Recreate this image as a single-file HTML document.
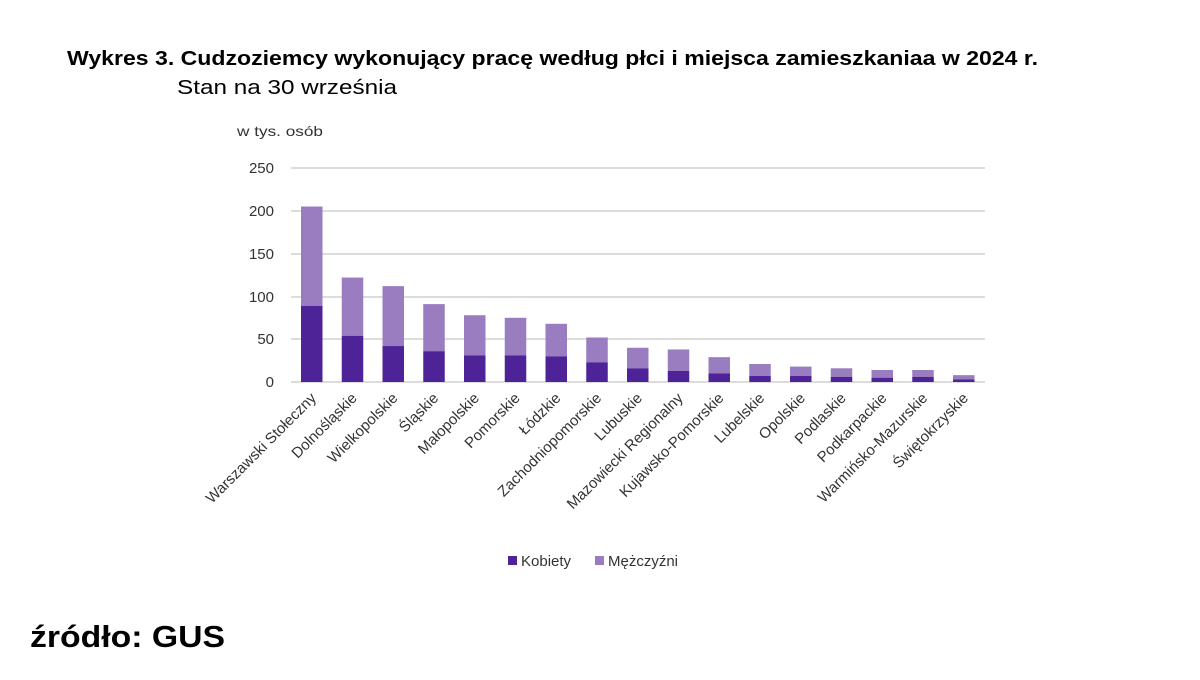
<!DOCTYPE html>
<html><head><meta charset="utf-8"><style>
body{margin:0;background:#fff;width:1200px;height:675px;overflow:hidden;font-family:"Liberation Sans","DejaVu Sans",sans-serif}
</style></head><body>
<svg width="1200" height="675" xmlns="http://www.w3.org/2000/svg" font-family="Liberation Sans, DejaVu Sans, sans-serif">
<text x="67" y="65" font-size="20" font-weight="bold" fill="#000" textLength="971" lengthAdjust="spacingAndGlyphs">Wykres 3. Cudzoziemcy wykonujący pracę według płci i miejsca zamieszkaniaa w 2024 r.</text>
<text x="177" y="94" font-size="20" fill="#000" textLength="220" lengthAdjust="spacingAndGlyphs">Stan na 30 września</text>
<text x="237" y="136" font-size="14" fill="#333" textLength="86" lengthAdjust="spacingAndGlyphs">w tys. osób</text>
<g stroke="#d0d0d0" stroke-width="1.5">
<line x1="291" x2="985" y1="168" y2="168"/><line x1="291" x2="985" y1="211" y2="211"/>
<line x1="291" x2="985" y1="254" y2="254"/><line x1="291" x2="985" y1="297" y2="297"/>
<line x1="291" x2="985" y1="339" y2="339"/><line x1="291" x2="985" y1="382" y2="382"/>
</g>
<g font-size="15" fill="#333" text-anchor="end">
<text x="274" y="173">250</text><text x="274" y="216">200</text><text x="274" y="259">150</text>
<text x="274" y="302">100</text><text x="274" y="344">50</text><text x="274" y="387">0</text>
</g>
<g id="bars"></g>
<g id="labels" font-size="15" fill="#333" text-anchor="end"></g>
<rect x="508" y="556" width="9" height="9" fill="#4f2398"/>
<text x="521" y="566" font-size="15" fill="#333">Kobiety</text>
<rect x="595" y="556" width="9" height="9" fill="#9a7cc0"/>
<text x="608" y="566" font-size="15" fill="#333">Mężczyźni</text>
<text x="30" y="647" font-size="31" font-weight="bold" fill="#000" textLength="195" lengthAdjust="spacingAndGlyphs">źródło: GUS</text>
<script>
var d=[["Warszawski Stołeczny",205,89],["Dolnośląskie",122,54],["Wielkopolskie",112,42],["Śląskie",91,36],["Małopolskie",78,31],["Pomorskie",75,31],["Łódzkie",68,30],["Zachodniopomorskie",52,23],["Lubuskie",40,16],["Mazowiecki Regionalny",38,13],["Kujawsko-Pomorskie",29,10],["Lubelskie",21,7],["Opolskie",18,7],["Podlaskie",16,6],["Podkarpackie",14,5],["Warmińsko-Mazurskie",14,6],["Świętokrzyskie",8,3]];
var ns="http://www.w3.org/2000/svg",b=document.getElementById("bars"),l=document.getElementById("labels"),k=0.856;
d.forEach(function(r,i){var x=301+i*40.75;
function rc(y,h,c){var e=document.createElementNS(ns,"rect");e.setAttribute("x",x);e.setAttribute("y",y);e.setAttribute("width",21.5);e.setAttribute("height",h);e.setAttribute("fill",c);b.appendChild(e);}
rc(382-r[1]*k,(r[1]-r[2])*k,"#9a7cc0");rc(382-r[2]*k,r[2]*k,"#4f2398");
var t=document.createElementNS(ns,"text");var cx=x+16,cy=399;t.setAttribute("x",cx);t.setAttribute("y",cy);t.setAttribute("transform","rotate(-45 "+cx+" "+cy+")");t.textContent=r[0];l.appendChild(t);});
</script>
</svg>
</body></html>
